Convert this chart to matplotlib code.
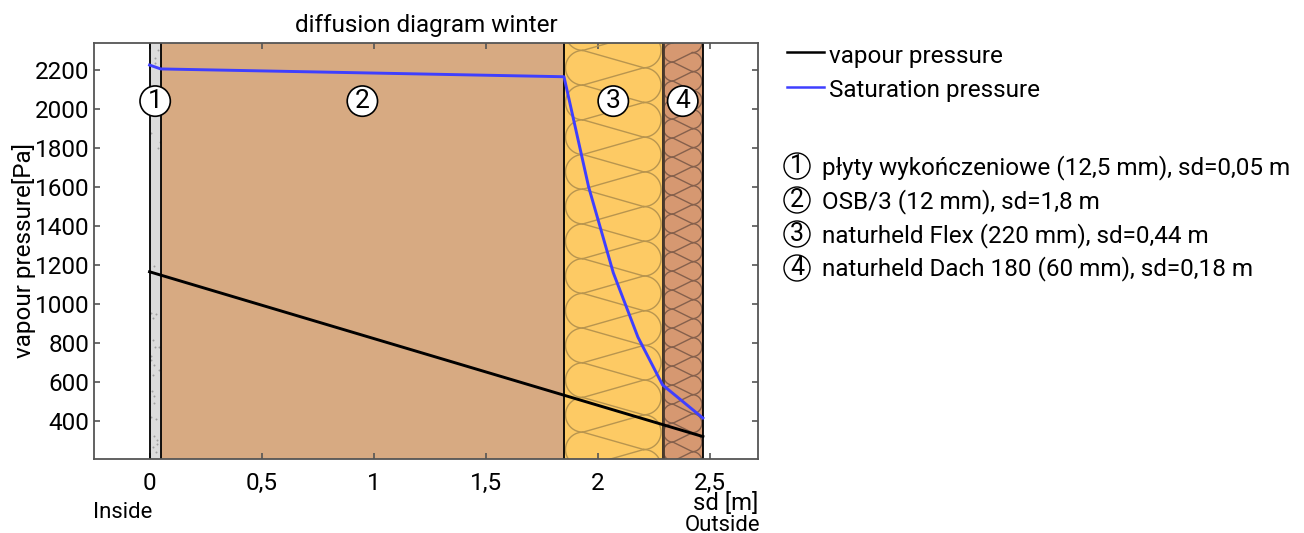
import numpy as np
import matplotlib
matplotlib.use("Agg")
import matplotlib.pyplot as plt
from matplotlib.patches import Rectangle

plt.rcParams["font.family"] = ["Roboto", "DejaVu Sans"]

# layer boundaries in sd [m]
layer_edges = [0, 0.05, 1.85, 2.29, 2.47]
layer_colors = ["#dcdcdc", "#d7aa82", "#fdca64", "#d69871"]
layer_names = ["płyty wykończeniowe (12,5 mm), sd=0,05 m", "OSB/3 (12 mm), sd=1,8 m",
               "naturheld Flex (220 mm), sd=0,44 m", "naturheld Dach 180 (60 mm), sd=0,18 m"]
layer_numbers = ["1", "2", "3", "4"]

sd_vapour = [0, 2.47]
p_vapour = [1165, 320]
sd_sat = [0, 0.05, 1.85, 1.96, 2.07, 2.18, 2.29, 2.47]
p_sat = [2225, 2205, 2165, 1600, 1160, 830, 585, 415]

xticks = [0, 0.5, 1, 1.5, 2, 2.5]
xticklabels = ["0", "0,5", "1", "1,5", "2", "2,5"]
yticks = list(range(400, 2201, 200))

# speckles in the plaster board
dots_x = [0.038, 0.025, 0.025, 0.007, 0.047, 0.038, 0.022, 0.005, 0.028, 0.017, 0.017, 0.025, 0.044,
          0.007, 0.007, 0.021, 0.042, 0.017, 0.013, 0.021, 0.02, 0.007, 0.029, 0.021, 0.032, 0.032,
          0.017, 0.027]
dots_y = [2303, 2262, 2236, 1877, 1830, 1800, 1195, 952, 947, 930, 815, 781, 778,
          733, 713, 687, 662, 636, 554, 530, 494, 419, 412, 325, 303, 282,
          268, 240]


def wool(ax, x0, x1, period, margin, y0, color, lw):
    # insulation symbol: half circles on both sides, slanted lines between the joints
    r = period / 2.0
    rx = r / 224.0
    ry = r / 0.195
    per = period / 0.195
    t = np.linspace(-np.pi / 2, np.pi / 2, 40)
    clip = Rectangle((x0, 205), x1 - x0, 2133, transform=ax.transData)
    xl = x0 + rx + margin / 224.0
    xr = x1 - rx - margin / 224.0
    y = y0
    while y > -per:
        # y is a joint on the left, the right joints sit half a period off
        yc_l = y + ry
        yc_r = y + per / 2 + ry
        lines = [
            (xl - rx * np.cos(t), yc_l + ry * np.sin(t)),
            (xr + rx * np.cos(t), yc_r + ry * np.sin(t)),
            ([xl, xr], [y, y + per / 2]),
            ([xl, xr], [y, y - per / 2]),
        ]
        for lx, ly in lines:
            ln, = ax.plot(lx, ly, color=color, lw=lw, zorder=2)
            ln.set_clip_path(clip)
        y -= per


fig = plt.figure(figsize=(13.04, 5.33), dpi=100)
ax = fig.add_axes([94 / 1304, 1 - 459 / 533, 664 / 1304, 416 / 533])

for i in range(4):
    ax.axvspan(layer_edges[i], layer_edges[i + 1], color=layer_colors[i], lw=0, zorder=1)
ax.scatter(dots_x, dots_y, s=2, color="#a0a0a0", lw=0, zorder=2)
wool(ax, layer_edges[2], layer_edges[3], 34.7, 1.5, 2300, "#b8954f", 1)
wool(ax, layer_edges[3], layer_edges[4], 19, 1, 2240, "#85604c", 1)
for e in layer_edges:
    ax.axvline(e, color="black", lw=1.3, zorder=3)
ax.axvline(layer_edges[3], color="#4a3a2c", lw=2, zorder=3)

ax.plot(sd_vapour, p_vapour, color="black", lw=2.1, zorder=4, label="vapour pressure")
ax.plot(sd_sat, p_sat, color="#3f3fff", lw=2.1, zorder=4, label="Saturation pressure")

ax.set_xlim(-0.248, 2.716)
ax.set_ylim(205, 2338)
ax.set_xticks(xticks)
ax.set_xticklabels(xticklabels)
ax.set_yticks(yticks)
ax.tick_params(direction="in", length=4.3, width=1.2, color="#555555", labelsize=17.5,
               top=True, right=True, zorder=5)
ax.tick_params(axis="x", pad=9)
ax.tick_params(axis="y", pad=3.5)
for s in ax.spines.values():
    s.set_color("#555555")
    s.set_linewidth(1.3)
    s.set_zorder(5)

ax.set_title("diffusion diagram winter", fontsize=17.5, pad=8)
ax.set_ylabel("vapour pressure[Pa]", fontsize=17.5, labelpad=-1)
fig.text(758 / 1304, 1 - 510 / 533, "sd [m]", fontsize=17.2, ha="right", va="baseline")
fig.text(93 / 1304, 1 - 518 / 533, "Inside", fontsize=15.9, ha="left", va="baseline")
fig.text(760 / 1304, 1 - 531 / 533, "Outside", fontsize=15.9, ha="right", va="baseline")

circle = dict(boxstyle="circle,pad=0.12", fc="white", ec="black", lw=1.2)
for i in range(4):
    mid = (layer_edges[i] + layer_edges[i + 1]) / 2
    ax.text(mid, 2040, layer_numbers[i], fontsize=19, ha="center", va="center", bbox=circle, zorder=6)

leg_base = [63, 97]
leg_line = [52, 87]
leg_labels = ["vapour pressure", "Saturation pressure"]
leg_colors = ["black", "#3f3fff"]
for yb, yl, lab, c in zip(leg_base, leg_line, leg_labels, leg_colors):
    fig.add_artist(plt.Line2D([787 / 1304, 824 / 1304], [1 - yl / 533] * 2, color=c, lw=1.8))
    fig.text(829 / 1304, 1 - yb / 533, lab, fontsize=17.5, va="baseline")

key_y = [166, 200, 234, 268]
key_base = [174, 208, 242, 275]
circle2 = dict(boxstyle="circle,pad=0.04", fc="white", ec="black", lw=1)
for y, yb, num, name in zip(key_y, key_base, layer_numbers, layer_names):
    fig.text(797 / 1304, 1 - y / 533, num, fontsize=18, ha="center", va="center", bbox=circle2)
    fig.text(822 / 1304, 1 - yb / 533, name, fontsize=17.45, va="baseline")

fig.savefig("out.png", dpi=100)
